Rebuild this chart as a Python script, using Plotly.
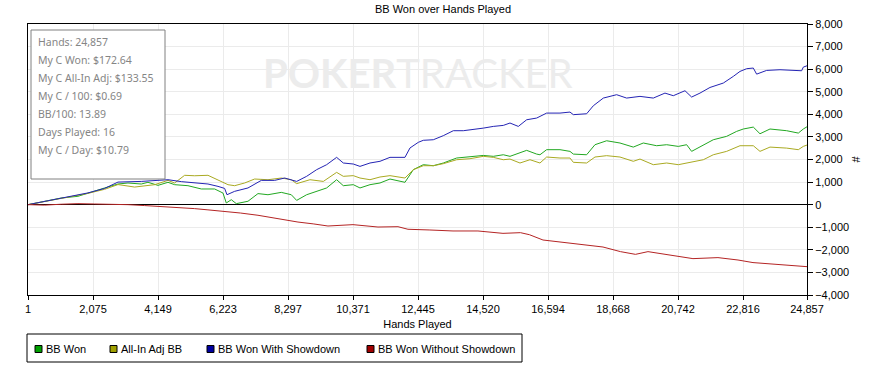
import plotly.graph_objects as go

# ---------------- data ----------------
green_hands = [1, 532, 1064, 1595, 1914, 2127, 2446, 2872, 3191, 3616, 3829, 4148, 4467, 4680, 5105,
               5531, 5956, 6222, 6328, 6488, 6648, 7020, 7339, 7658, 8083, 8402, 8573, 8892, 9211,
               9530, 9849, 10062, 10381, 10594, 10913, 11232, 11551, 12029, 12295, 12614, 12933,
               13253, 13678, 14103, 14529, 14848, 15167, 15380, 15699, 15912, 16231, 16337, 16550,
               16975, 17294, 17401, 17826, 18092, 18464, 18889, 19315, 19634, 20059, 20379, 20751,
               21017, 21176, 21442, 21867, 22293, 22612, 22825, 23144, 23357, 23676, 24208, 24580,
               24739, 24857]
green_bb = [0, 150, 295, 370, 515, 590, 740, 915, 960, 915, 990, 855, 990, 885, 840,
            695, 695, 515, 75, 220, 45, 150, 490, 440, 545, 440, 190, 440, 590,
            740, 1105, 840, 885, 740, 885, 960, 1135, 990, 1550, 1770, 1725,
            1845, 2065, 2110, 2180, 2140, 2210, 2140, 2285, 2405, 2240, 2210, 2435,
            2435, 2360, 2240, 2210, 2655, 2830, 2730, 2550, 2730, 2610, 2655, 2580,
            2655, 2360, 2550, 2875, 3025, 3245, 3350, 3435, 3140, 3350, 3275, 3170,
            3350, 3450]

yellow_hands = [1, 1064, 1914, 2446, 2872, 3404, 4042, 4467, 4680, 4999, 5318, 5743, 6063, 6382,
                6594, 6913, 7232, 7658, 8083, 8402, 8573, 8998, 9424, 9849, 10062, 10381, 10594,
                10913, 11232, 11551, 12029, 12295, 12614, 12933, 13253, 13678, 14103, 14529,
                14848, 15167, 15380, 15699, 16018, 16337, 16550, 16975, 17294, 17401, 17826,
                18092, 18464, 18889, 19315, 19528, 19953, 20379, 20751, 21176, 21549, 21867,
                22293, 22719, 23144, 23357, 23676, 24208, 24580, 24739, 24857]
yellow_bb = [0, 290, 500, 680, 890, 780, 885, 1075, 960, 1300, 1280, 1300, 1105, 885,
             840, 960, 1135, 1105, 1180, 1105, 930, 1105, 1030, 1430, 1255, 1285, 1180,
             1105, 1225, 1285, 1180, 1550, 1725, 1725, 1815, 1990, 2035, 2140,
             2095, 1990, 2020, 1845, 1990, 1845, 2110, 2065, 2065, 1875, 1845,
             2110, 2170, 2110, 1920, 2020, 1770, 1845, 1770, 1875, 1990, 2210,
             2360, 2610, 2610, 2360, 2550, 2505, 2435, 2580, 2640]

blue_hands = [1, 1064, 1914, 2446, 2872, 3616, 4042, 4467, 4893, 5318, 5743, 6063, 6275, 6350,
              6594, 7020, 7445, 7871, 8190, 8573, 8892, 9211, 9530, 9849, 10062, 10381, 10594,
              10913, 11232, 11551, 12029, 12189, 12455, 12614, 12933, 13253, 13572, 13891,
              14210, 14529, 14848, 15167, 15380, 15646, 15912, 16231, 16550, 16975, 17294,
              17401, 17826, 18039, 18358, 18783, 19102, 19528, 19953, 20325, 20591, 20964,
              21176, 21442, 21761, 22187, 22506, 22719, 22931, 23144, 23250, 23569, 23995,
              24420, 24686, 24739, 24857]
blue_bb = [0, 300, 520, 720, 1000, 1030, 1060, 1105, 1020, 960, 915, 810, 720, 440,
           590, 740, 1075, 1075, 1180, 1030, 1255, 1550, 1770, 2095, 1845, 1800, 1695,
           1845, 1920, 2095, 2095, 2510, 2760, 2850, 2875, 3055, 3275, 3275,
           3320, 3390, 3465, 3510, 3615, 3465, 3760, 3835, 4055, 4055, 4100,
           3985, 4025, 4380, 4720, 4870, 4720, 4795, 4720, 4940, 4825, 5045,
           4765, 4940, 5190, 5385, 5680, 5900, 6020, 6050, 5780, 5945, 5975,
           5945, 5930, 6090, 6150]

red_hands = [1, 530, 1064, 1595, 2127, 2660, 3191, 3723, 4255, 4786, 5318, 5743, 6222, 6780,
             7339, 7980, 8615, 9100, 9572, 10370, 10800, 11168, 11806, 12125, 12800, 13561,
             14358, 15156, 15715, 16000, 16433, 17000, 17549, 18347, 18905, 19384, 19783,
             20300, 20740, 21218, 22016, 22655, 23133, 23931, 24569, 24857]
red_bb = [0, -20, 20, 45, 30, 20, 0, -40, -75, -130, -175, -230, -280, -370,
          -470, -620, -770, -850, -945, -885, -930, -990, -975, -1090, -1120, -1165,
          -1165, -1270, -1240, -1330, -1565, -1650, -1725, -1875, -2080, -2200, -2080,
          -2200, -2270, -2390, -2345, -2450, -2565, -2640, -2715, -2745]

x_ticks = [1, 2075, 4149, 6223, 8297, 10371, 12445, 14520, 16594, 18668, 20742, 22816, 24857]
x_tick_labels = ["1", "2,075", "4,149", "6,223", "8,297", "10,371", "12,445", "14,520",
                 "16,594", "18,668", "20,742", "22,816", "24,857"]

series_names = ["BB Won", "All-In Adj BB", "BB Won With Showdown", "BB Won Without Showdown"]
line_colors = ["#22a822", "#aaaa22", "#2424b4", "#b42424"]
legend_colors = ["#00a000", "#a0a000", "#0000a0", "#a00000"]

info_lines = ["Hands: 24,857", "My C Won: $172.64", "My C All-In Adj: $133.55", "My C / 100: $0.69",
              "BB/100: 13.89", "Days Played: 16", "My C / Day: $10.79"]

# ---------------- figure ----------------
fig = go.Figure()
data = [(green_hands, green_bb), (yellow_hands, yellow_bb), (blue_hands, blue_bb), (red_hands, red_bb)]
for (hx, hy), name, lc in zip(data, series_names, line_colors):
    fig.add_trace(go.Scatter(x=hx, y=hy, mode="lines", name=name, showlegend=False,
                             line=dict(color=lc, width=1)))

W, H = 886, 378
L, R, T, B = 28, 807, 24, 295
pw, ph = R - L, B - T

def px(x):
    return (x - L) / pw

def py(y):
    return (B - y) / ph

fig.update_layout(
    width=W, height=H,
    margin=dict(l=L, r=W - R, t=T, b=H - B, autoexpand=False),
    paper_bgcolor="white", plot_bgcolor="white",
    font=dict(family="Liberation Sans, Arial, sans-serif", size=11, color="black"),
    title=dict(text="BB Won over Hands Played", x=0.5, xref="container", xanchor="center",
               y=1 - 9 / H, yref="container", yanchor="middle",
               font=dict(size=11, color="black")),
    showlegend=False,
    xaxis=dict(range=[1, 24857], tickvals=x_ticks, ticktext=x_tick_labels,
               showgrid=True, gridcolor="#ebebeb", gridwidth=1,
               showline=True, linecolor="black", linewidth=1, mirror=True,
               ticks="outside", ticklen=4, tickcolor="black",
               zeroline=False,
               title=dict(text="Hands Played", standoff=6, font=dict(size=11))),
    yaxis=dict(range=[-4000, 8000], dtick=1000, tickformat=",", side="right",
               showgrid=True, gridcolor="#ebebeb", gridwidth=1,
               showline=True, linecolor="black", linewidth=1, mirror=True,
               ticks="outside", ticklen=5, tickcolor="black",
               zeroline=True, zerolinecolor="black", zerolinewidth=1.3,
               title=dict(text="#", standoff=4, font=dict(size=11))),
)

# watermark
fig.add_annotation(xref="paper", yref="paper", x=px(418), y=py(73), xanchor="center",
                   yanchor="middle", showarrow=False,
                   text="<b>POKER</b>TRACKER",
                   font=dict(family="Lato, Open Sans, sans-serif", size=40, color="#ececec"))

# info box
fig.add_shape(type="rect", xref="paper", yref="paper", x0=px(31), x1=px(165), y0=py(179), y1=py(30),
              line=dict(color="#808080", width=1), fillcolor="white", layer="above")
for i, t in enumerate(info_lines):
    fig.add_annotation(xref="paper", yref="paper", x=px(35.5), y=py(42.3 + 18 * i),
                       xanchor="left", yanchor="middle", showarrow=False, text=t,
                       font=dict(family="Noto Sans, sans-serif", size=10.5, color="#858585"))

# legend box (drawn like the reference: small bordered squares + labels)
fig.add_shape(type="rect", xref="paper", yref="paper", x0=px(27), x1=px(522), y0=py(362), y1=py(334),
              line=dict(color="black", width=1), fillcolor="white", layer="above")
sq_x = [35, 110, 207, 367]
for sx, name, mc in zip(sq_x, series_names, legend_colors):
    fig.add_shape(type="rect", xref="paper", yref="paper", x0=px(sx), x1=px(sx + 7),
                  y0=py(352.5), y1=py(345.5), line=dict(color="black", width=1),
                  fillcolor=mc, layer="above")
    fig.add_annotation(xref="paper", yref="paper", x=px(sx + 9), y=py(349), xanchor="left",
                       yanchor="middle", showarrow=False, text=name,
                       font=dict(size=11, color="black"))

fig.write_html("out.html", config={"displayModeBar": False},
               post_script="document.body.style.margin='0';")
